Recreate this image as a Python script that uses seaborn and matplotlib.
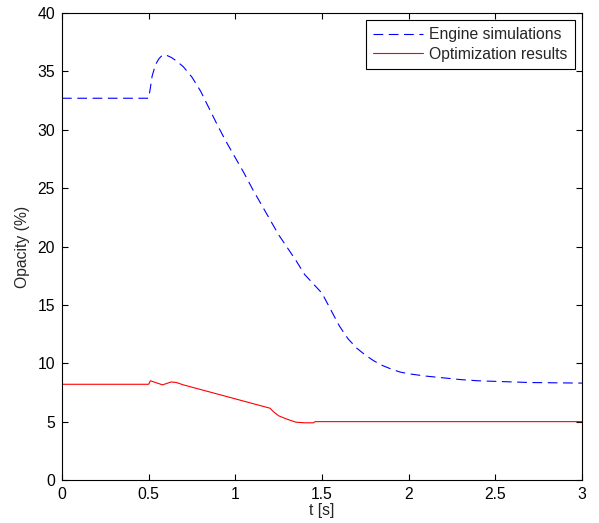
import matplotlib
matplotlib.use("Agg")
import matplotlib.pyplot as plt
import seaborn as sns
import pandas as pd

# Engine simulation opacity trace
t_engine = [0.0, 0.25, 0.5, 0.51, 0.52, 0.54, 0.56, 0.58, 0.6, 0.63, 0.66, 0.7, 0.75,
            0.8, 0.85, 0.9, 0.95, 1.0, 1.05, 1.1, 1.15, 1.2, 1.25, 1.3, 1.35, 1.4,
            1.45, 1.5, 1.55, 1.6, 1.65, 1.7, 1.75, 1.8, 1.85, 1.9, 1.95, 2.0, 2.1,
            2.2, 2.3, 2.4, 2.5, 2.7, 3.0]
opacity_engine = [32.7, 32.7, 32.7, 33.6, 34.6, 35.6, 36.1, 36.4, 36.4, 36.2, 35.9, 35.4, 34.5,
                  33.3, 31.8, 30.3, 28.9, 27.6, 26.3, 24.9, 23.6, 22.3, 21.0, 19.9, 18.8, 17.6,
                  16.8, 16.0, 14.6, 13.2, 12.1, 11.3, 10.7, 10.2, 9.8, 9.5, 9.25, 9.1, 8.9,
                  8.75, 8.6, 8.5, 8.45, 8.35, 8.3]

# Optimized opacity trace
t_opt = [0.0, 0.25, 0.5, 0.51, 0.53, 0.56, 0.58, 0.6, 0.63, 0.66, 0.7, 0.8, 0.9,
         1.0, 1.1, 1.15, 1.2, 1.22, 1.25, 1.3, 1.35, 1.4, 1.45, 1.46, 2.0, 2.5, 3.0]
opacity_opt = [8.2, 8.2, 8.2, 8.5, 8.4, 8.25, 8.15, 8.25, 8.4, 8.35, 8.15, 7.75, 7.35,
               6.95, 6.55, 6.35, 6.15, 5.85, 5.5, 5.2, 4.95, 4.9, 4.9, 5.0, 5.0, 5.0, 5.0]

labels = ["Engine simulations", "Optimization results"]

df = pd.concat([
    pd.DataFrame({"t": t_engine, "opacity": opacity_engine, "series": labels[0]}),
    pd.DataFrame({"t": t_opt, "opacity": opacity_opt, "series": labels[1]}),
])

sns.set_style("ticks")
plt.rcParams["font.family"] = ["Liberation Sans", "DejaVu Sans"]
plt.rcParams["lines.scale_dashes"] = False

FS = 11.3

fig = plt.figure(figsize=(5.99, 5.23), dpi=100)
ax = fig.add_axes([0.1035, 0.0822, 0.8681, 0.8929])

sns.lineplot(data=df, x="t", y="opacity", hue="series", style="series",
             palette={labels[0]: "#0000ff", labels[1]: "#ff0000"},
             dashes={labels[0]: (7, 4), labels[1]: ""},
             linewidth=0.8, ax=ax, sort=False, estimator=None)

ax.set_xlim(0, 3)
ax.set_ylim(0, 40)
ax.set_xticks([0, 0.5, 1, 1.5, 2, 2.5, 3])
ax.set_xticklabels(["0", "0.5", "1", "1.5", "2", "2.5", "3"])
ax.set_yticks(range(0, 41, 5))
ax.set_xlabel("t [s]", fontsize=FS, labelpad=1)
ax.set_ylabel("Opacity (%)", fontsize=FS, labelpad=5)
ax.tick_params(direction="in", length=4, width=0.8, labelsize=FS,
               top=True, right=True, colors="black", pad=5)
for sp in ax.spines.values():
    sp.set_visible(True)
    sp.set_linewidth(0.8)
    sp.set_color("black")

leg = ax.legend(loc="upper right", fontsize=FS, frameon=True, fancybox=False,
                edgecolor="black", framealpha=1, borderaxespad=0.45,
                handlelength=3.2, handletextpad=0.4, borderpad=0.45,
                labelspacing=0.3)
leg.get_frame().set_linewidth(0.8)

fig.savefig("out.png", dpi=100)
